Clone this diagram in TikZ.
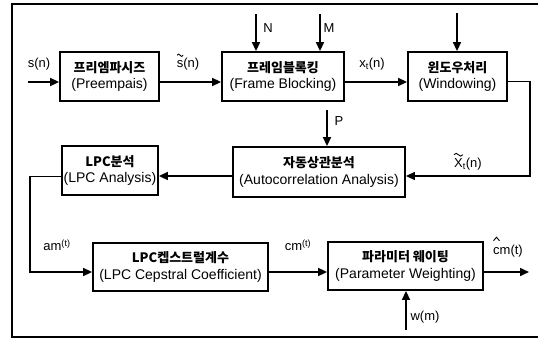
\documentclass[tikz,border=0pt]{standalone}
\usepackage{fontspec}
\setmainfont{Liberation Sans}
\newfontfamily\kr{Noto Sans CJK KR}
\usetikzlibrary{arrows.meta}
\newcommand\krt[1]{{\kr\bfseries\fontsize{13}{16.5}\selectfont #1}}
\begin{document}
\begin{tikzpicture}[x=1pt,y=-1pt,
  blk/.style={draw,line width=1.8pt,align=center,inner sep=0pt,font=\fontsize{14}{16.5}\selectfont},
  lbl/.style={font=\fontsize{13}{15}\selectfont,inner sep=0pt},
  con/.style={line width=1.5pt,-{Triangle[length=9pt,width=8pt]}},
  accent/.style={line width=0.9pt},
  frame/.style={line width=1.6pt}]
\useasboundingbox (0,0) rectangle (538,340);
\draw[frame] (538,4) -- (12,4) -- (12,337) -- (538,337);
% blocks
\node[blk,minimum width=99pt,minimum height=49pt] (pre) at (109.5,76.5) {\krt{프리엠파시즈}\\(Preempais)};
\node[blk,minimum width=122pt,minimum height=49pt] (fb) at (283,76.5) {\krt{프레임블록킹}\\(Frame Blocking)};
\node[blk,minimum width=99pt,minimum height=49pt] (win) at (457.5,76.5) {\krt{윈도우처리}\\(Windowing)};
\node[blk,minimum width=172pt,minimum height=50pt] (auto) at (319,172) {\krt{자동상관분석}\\(Autocorrelation Analysis)};
\node[blk,minimum width=96pt,minimum height=49pt] (lpca) at (110,170.5) {\krt{LPC분석}\\(LPC Analysis)};
\node[blk,minimum width=175pt,minimum height=48pt] (ceps) at (180.5,267) {\krt{LPC켑스트럴계수}\\(LPC Cepstral Coefficient)};
\node[blk,minimum width=155pt,minimum height=48pt] (pw) at (405.5,266) {\krt{파라미터 웨이팅}\\(Parameter Weighting)};
% coordinates
\coordinate (sin) at (28,82);
\coordinate (nN) at (256,14);
\coordinate (nM) at (320,14);
\coordinate (nW) at (457,13);
\coordinate (nP) at (327,110);
\coordinate (nw) at (406,330);
\coordinate (c1) at (530,0);
\coordinate (c2) at (30,0);
\coordinate (out) at (529,272);
% connectors
\draw[con] (sin) -- (sin -| pre.west);
\draw[con] ([yshift=-5.5pt]pre.east) -- ([yshift=-5.5pt]fb.west);
\draw[con] ([yshift=-5.5pt]fb.east) -- ([yshift=-5.5pt]win.west);
\draw[con] ([yshift=-5pt]win.east) -| ([yshift=-4pt]auto.east -| c1) -- ([yshift=-4pt]auto.east);
\draw[con] ([yshift=-4pt]auto.west) -- ([yshift=-4pt]auto.west -| lpca.east);
\draw[con] ([yshift=-6pt]lpca.west) -| ([yshift=-5pt]ceps.west -| c2) -- ([yshift=-5pt]ceps.west);
\draw[con] ([yshift=-5pt]ceps.east) -- ([yshift=-5pt]ceps.east -| pw.west);
\draw[con] (pw.east |- out) -- (out);
\draw[con] (nN) -- (nN |- fb.north);
\draw[con] (nM) -- (nM |- fb.north);
\draw[con] (nW) -- (nW |- win.north);
\draw[con] (nP) -- (nP |- auto.north);
\draw[con] (nw) -- (nw |- pw.south);
% labels
\node[lbl] (lsn) at (39,64) {s(n)};
\node[lbl] (lstn) at (188,64) {s(n)};
\node[lbl] (lxt) at (372,64) {x\textsubscript{t}(n)};
\node[lbl] (lN) at (268,28) {N};
\node[lbl] (lM) at (329,28) {M};
\node[lbl] (lP) at (339,121) {P};
\node[lbl] (lXt) at (468,164) {X\textsubscript{t}(n)};
\node[lbl] (lam) at (57,245) {am\textsuperscript{(t)}};
\node[lbl] (lcm) at (298,245) {cm\textsuperscript{(t)}};
\node[lbl] (lch) at (508,251) {cm(t)};
\node[lbl] (lw) at (425,317) {w(m)};
% accents
\draw[accent] ([xshift=0.5pt,yshift=2.5pt]lstn.north west) sin +(1.5,-1.2) cos +(1.5,1.2) sin +(1.5,1.2) cos +(1.5,-1.2);
\draw[accent] ([xshift=0pt,yshift=3pt]lXt.north west) sin +(2.2,-1.4) cos +(2.2,1.4) sin +(2.2,1.4) cos +(2.2,-1.4);
\draw[accent] ([xshift=0.5pt,yshift=4pt]lch.north west) -- +(3,-3.5) -- +(6,0);
\end{tikzpicture}
\end{document}
